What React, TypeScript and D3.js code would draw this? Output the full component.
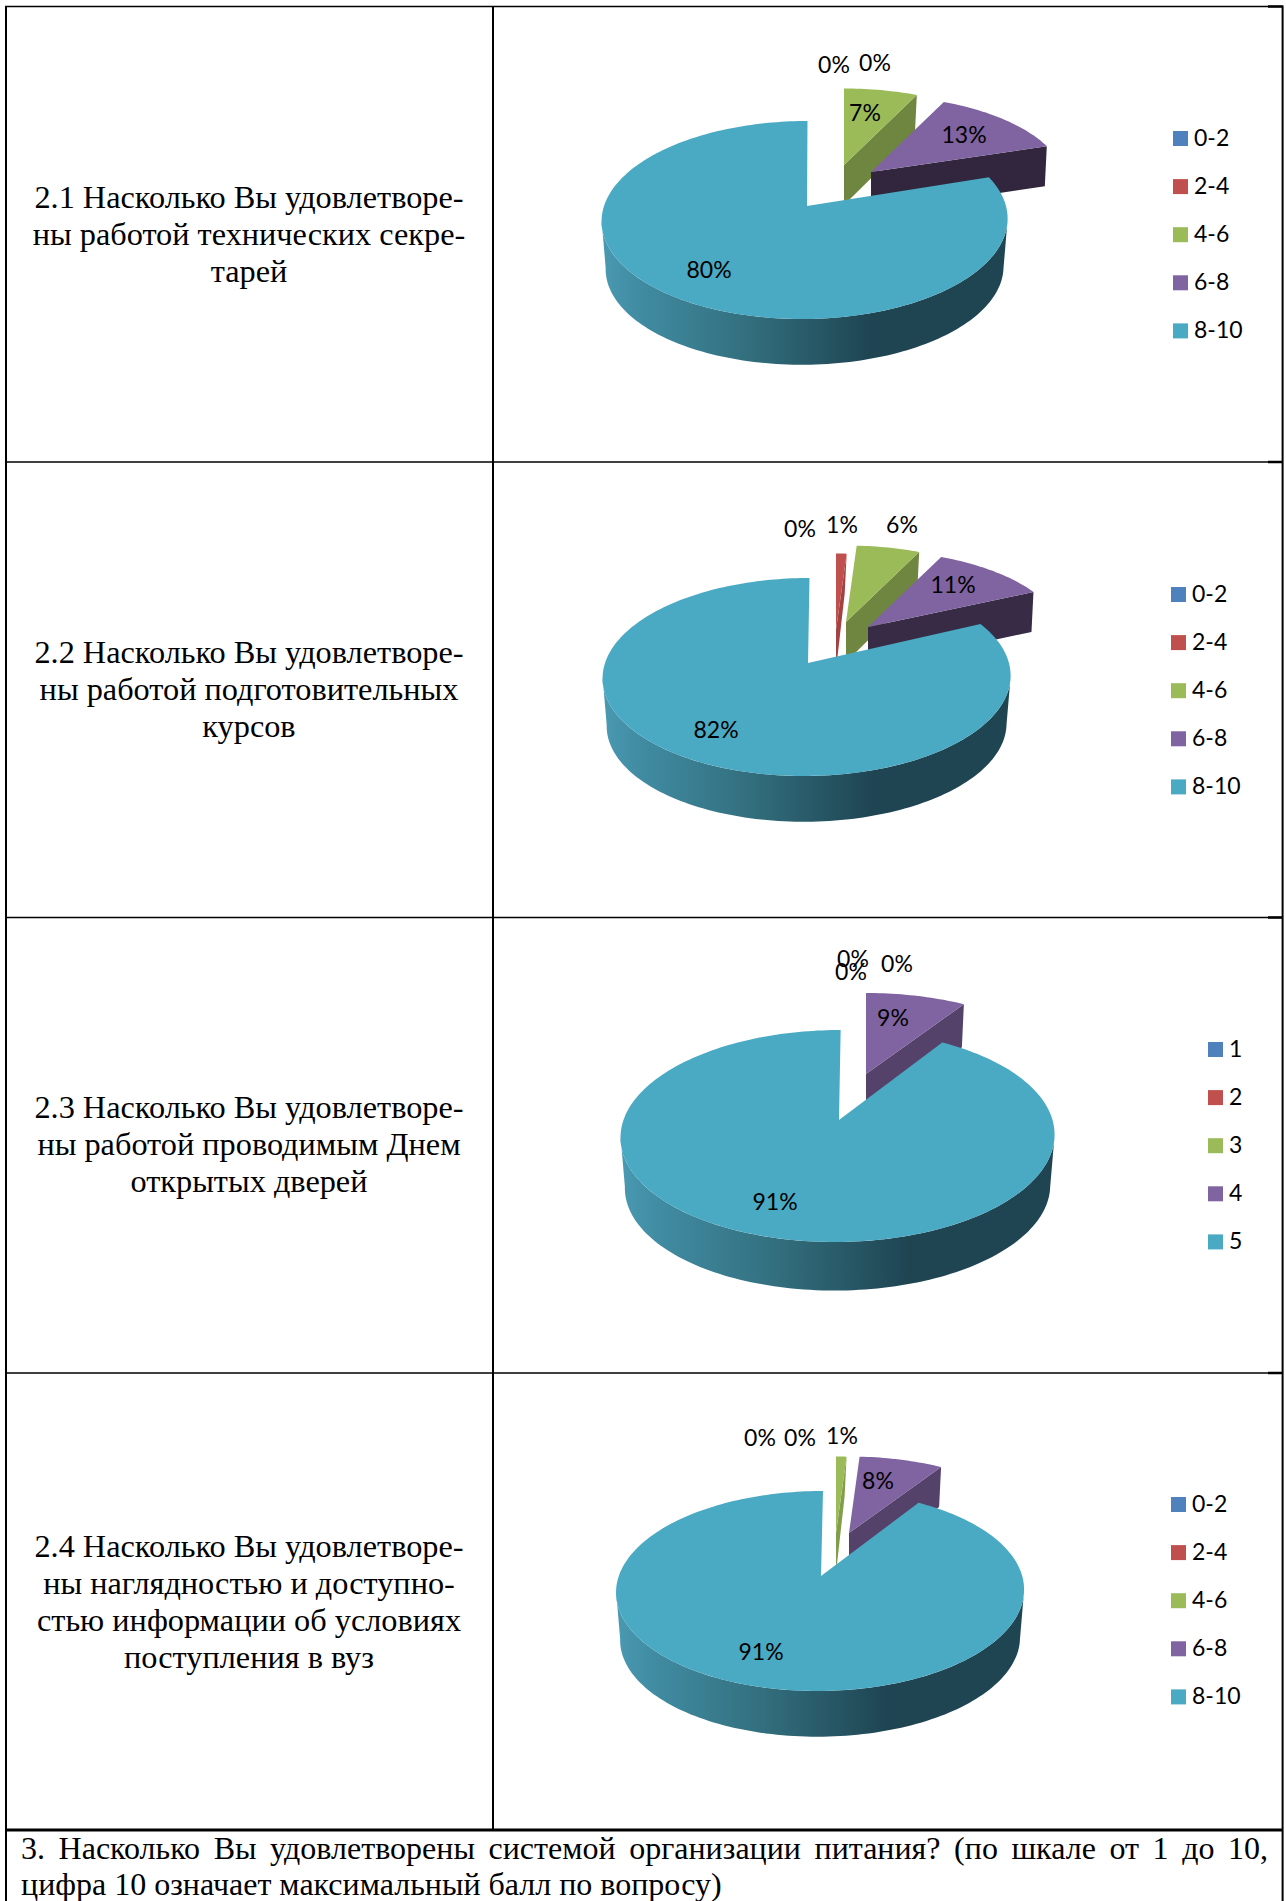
import React from "react";
import * as d3 from "d3";

const WIDTH = 1286;
const HEIGHT = 1901;

const rangeLegend = ["0-2", "2-4", "4-6", "6-8", "8-10"];
const scoreLegend = ["1", "2", "3", "4", "5"];
const chart21Values = [0, 0, 7, 13, 80];
const chart22Values = [0, 1, 6, 11, 82];
const chart23Values = [0, 0, 0, 9, 91];
const chart24Values = [0, 0, 1, 8, 91];
const sliceColors = ["#4f81bd", "#c0504d", "#9bbb59", "#8063a1", "#4aa9c3"];

const question21 = ["2.1 Насколько Вы удовлетворе-", "ны работой технических секре-", "тарей"];
const question22 = ["2.2 Насколько Вы удовлетворе-", "ны работой подготовительных", "курсов"];
const question23 = ["2.3 Насколько Вы удовлетворе-", "ны работой проводимым Днем", "открытых дверей"];
const question24 = ["2.4 Насколько Вы удовлетворе-", "ны наглядностью и доступно-", "стью информации об условиях", "поступления в вуз"];
const footerLine1 = "3. Насколько Вы удовлетворены системой организации питания? (по шкале от 1 до 10,";
const footerLine2 = "цифра 10 означает максимальный балл по вопросу)";

const SERIF = '"Liberation Serif", "Times New Roman", serif';
const SANS = 'Lato, "Open Sans", sans-serif';
const SERIF_SIZE = 32.3;
const FOOTER_SIZE = 32;
const LABEL_SIZE = 23;
const SHEAR = 2.5 / 85;

type Layout = {
  values: number[];
  legend: string[];
  question: string[];
  firstBaseline: number;
  cx: number; ax: number; ay: number; up: number; down: number; rx: number; depth: number;
  wedgeApex: Record<number, [number, number]>;
  labelPos: [number, number][];
  legendX: number; legendY: number;
};

const layouts: Layout[] = [
  {
    values: chart21Values, legend: rangeLegend, question: question21, firstBaseline: 208,
    cx: 805, ax: 807, ay: 206, up: 85, down: 113, rx: 203, depth: 46,
    wedgeApex: { 2: [844, 165], 3: [871, 172] },
    labelPos: [[834, 73], [875, 71], [865, 121], [964, 143], [709, 278]],
    legendX: 1173, legendY: 131,
  },
  {
    values: chart22Values, legend: rangeLegend, question: question22, firstBaseline: 663,
    cx: 807, ax: 808, ay: 663, up: 85, down: 113, rx: 204, depth: 46,
    wedgeApex: { 1: [836, 630], 2: [846, 622], 3: [868, 627] },
    labelPos: [[800, 537], [842, 533], [902, 533], [953, 593], [716, 738]],
    legendX: 1171, legendY: 587,
  },
  {
    values: chart23Values, legend: scoreLegend, question: question23, firstBaseline: 1118,
    cx: 838, ax: 839, ay: 1120, up: 90, down: 122, rx: 217, depth: 49,
    wedgeApex: { 3: [866, 1074] },
    labelPos: [[853, 967], [851, 980], [897, 972], [893, 1026], [775, 1210]],
    legendX: 1208, legendY: 1042,
  },
  {
    values: chart24Values, legend: rangeLegend, question: question24, firstBaseline: 1557,
    cx: 820.5, ax: 821, ay: 1576, up: 85, down: 115, rx: 204, depth: 46,
    wedgeApex: { 2: [836, 1533], 3: [849, 1533] },
    labelPos: [[760, 1446], [800, 1446], [842, 1444], [878, 1489], [761, 1660]],
    legendX: 1171, legendY: 1497,
  },
];

const colorScale = d3.scaleOrdinal<number, string>().domain(d3.range(5)).range(sliceColors);
const shade = d3.scaleLinear().domain([3.6, 25, 65]).range([0.84, 0.72, 0.43]);
const darken = (c: string, f: number) => {
  const r = d3.rgb(c);
  return d3.rgb(r.r * f, r.g * f, r.b * f).formatHex();
};
const lineGen = d3.line<[number, number]>().x((d) => d[0]).y((d) => d[1]);

function measure(text: string, font: string) {
  const ctx = document.createElement("canvas").getContext("2d")!;
  ctx.font = font;
  return ctx.measureText(text).width;
}

function PieChart({ layout, index }: { layout: Layout; index: number }) {
  const { cx, ax, ay, up, down, rx, depth, values } = layout;
  const k = (down - up) / (down + up);
  const s = up * (1 + k);
  const sx = rx * Math.sqrt(1 - k * k);
  const project = (a: number, fx = 1, fy = 1): [number, number] => {
    const w = 1 + k * Math.cos(a);
    return [(sx * fx * Math.sin(a)) / w, (-s * fy * Math.cos(a)) / w];
  };
  const rim = (a: number, f = 1, dy = 0): [number, number] => {
    const p = project(a, f, f);
    return [cx + p[0] - SHEAR * p[1], ay + p[1] + dy];
  };
  const arcs = d3.pie<number>().sort(null).value((d) => d)(values);
  const sample = (a0: number, a1: number) => {
    const n = Math.max(2, Math.ceil(Math.abs(a1 - a0) * 40));
    return d3.range(n + 1).map((i) => a0 + ((a1 - a0) * i) / n);
  };
  const main = arcs[4];
  const topFace: [number, number][] = [[ax, ay], ...sample(main.startAngle, main.endAngle).map((a) => rim(a))];
  const aR = Math.acos(-k);
  const frontAngles = sample(aR, 2 * Math.PI - aR);
  const wallTop = frontAngles.map((a) => rim(a));
  const wallBottom = frontAngles.map((a) => rim(a, 0.98, depth + 2)).reverse();
  const gradId = `wall-${index}`;
  return (
    <g>
      <defs>
        <linearGradient id={gradId} x1="0" x2="1" y1="0" y2="0">
          <stop offset="0" stopColor="#4a9ab2" />
          <stop offset="0.08" stopColor="#418da4" />
          <stop offset="0.35" stopColor="#33707f" />
          <stop offset="0.66" stopColor="#1f4553" />
          <stop offset="1" stopColor="#1f4553" />
        </linearGradient>
      </defs>
      {arcs.slice(0, 4).map((arc, i) => {
        if (arc.value <= 0) return null;
        const apex = layout.wedgeApex[i];
        const pts = sample(arc.startAngle, arc.endAngle).map((a) => {
          const p = project(a, 0.96, 0.9);
          return [apex[0] + p[0], apex[1] + p[1]] as [number, number];
        });
        const end = pts[pts.length - 1];
        const wd = depth - 6;
        const deg = (arc.endAngle * 180) / Math.PI;
        return (
          <g key={i}>
            <path
              d={lineGen([apex, end, [end[0] - 2, end[1] + wd], [apex[0], apex[1] + wd]])! + "Z"}
              fill={darken(colorScale(i), shade(deg))}
            />
            <path d={lineGen([apex, ...pts])! + "Z"} fill={colorScale(i)} />
          </g>
        );
      })}
      <path d={lineGen([...wallTop, ...wallBottom])! + "Z"} fill={`url(#${gradId})`} />
      <path d={lineGen(topFace)! + "Z"} fill={colorScale(4)} />
      {values.map((v, i) => (
        <text
          key={i}
          x={layout.labelPos[i][0]}
          y={layout.labelPos[i][1]}
          textAnchor="middle"
          fontFamily={SANS}
          fontSize={LABEL_SIZE}
          fill="#000"
        >
          {v}%
        </text>
      ))}
      {layout.legend.map((name, i) => (
        <g key={name}>
          <rect x={layout.legendX} y={layout.legendY + i * 48.1} width={15} height={15} fill={colorScale(i)} />
          <text
            x={layout.legendX + 21}
            y={layout.legendY + i * 48.1 + 15}
            fontFamily={SANS}
            fontSize={LABEL_SIZE}
            fill="#000"
          >
            {name}
          </text>
        </g>
      ))}
      {layout.question.map((line, i) => (
        <text
          key={i}
          x={249}
          y={layout.firstBaseline + i * 37}
          textAnchor="middle"
          fontFamily={SERIF}
          fontSize={SERIF_SIZE}
          fill="#000"
        >
          {line}
        </text>
      ))}
    </g>
  );
}

export default function App() {
  const font = `${FOOTER_SIZE}px "Liberation Serif"`;
  const natural = measure(footerLine1, font);
  const spaces = footerLine1.split(" ").length - 1;
  const wordSpacing = (1268 - 21 - natural) / spaces;
  const rows = [6.5, 462, 917.5, 1373];
  const rightEdge = 1282.6;
  return (
    <svg
      width={WIDTH}
      height={HEIGHT}
      viewBox={`0 0 ${WIDTH} ${HEIGHT}`}
      style={{ position: "absolute", left: 0, top: 0, display: "block", background: "#fff" }}
    >
      {layouts.map((l, i) => (
        <PieChart key={i} layout={l} index={i} />
      ))}
      <g stroke="#000" fill="none">
        {rows.map((y) => (
          <g key={y}>
            <line x1={5} x2={rightEdge} y1={y} y2={y} strokeWidth={1.5} />
            <line x1={1268} x2={rightEdge} y1={y} y2={y} strokeWidth={2.5} />
          </g>
        ))}
        <line x1={5} x2={rightEdge} y1={1830} y2={1830} strokeWidth={3} />
        <line x1={6} x2={6} y1={6} y2={1901} strokeWidth={2} />
        <line x1={493} x2={493} y1={6} y2={1830} strokeWidth={2} />
        <line x1={rightEdge} x2={rightEdge} y1={5.5} y2={1901} strokeWidth={2} />
      </g>
      <text x={21} y={1858.5} fontFamily={SERIF} fontSize={FOOTER_SIZE} wordSpacing={wordSpacing} fill="#000">
        {footerLine1}
      </text>
      <text x={21} y={1895} fontFamily={SERIF} fontSize={FOOTER_SIZE} fill="#000">
        {footerLine2}
      </text>
    </svg>
  );
}
